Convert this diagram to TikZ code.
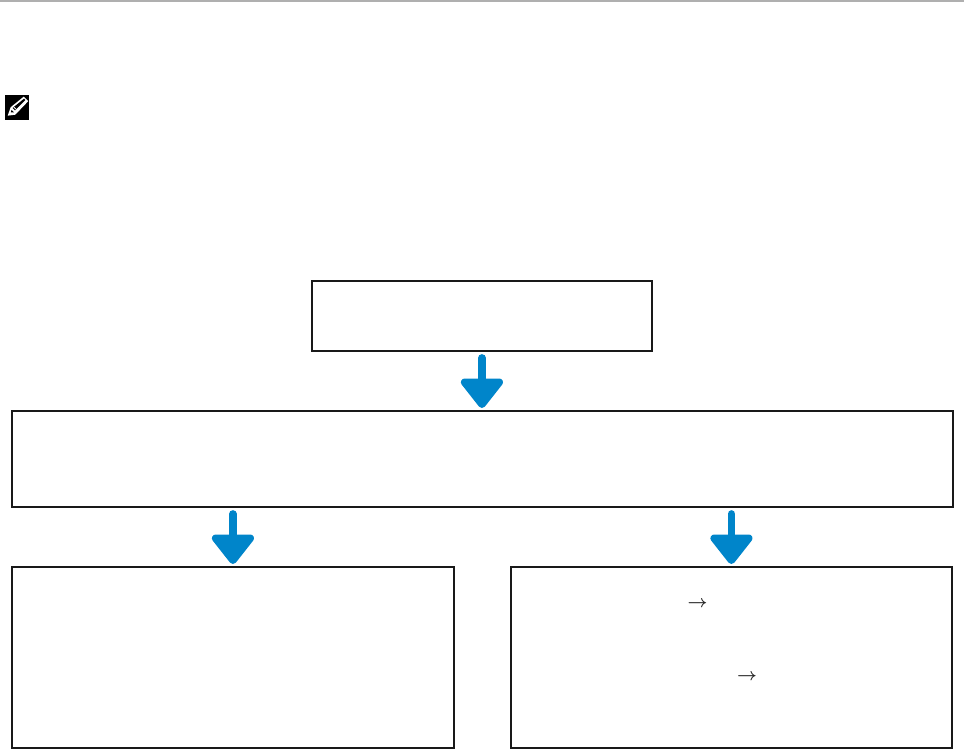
\documentclass[tikz,border=0pt]{standalone}
\usepackage{amsmath}
\usetikzlibrary{arrows.meta}
\definecolor{flowblue}{RGB}{0,133,202}
\definecolor{rulegray}{RGB}{175,175,175}
\tikzset{
  flowbox/.style={draw=black!90, line width=1.9pt, fill=white, inner sep=0pt, anchor=north west},
  flowarrow/.style={draw=flowblue, line width=7.5pt, line cap=round,
    -{Triangle[width=48pt,length=32pt,round]}, flowblue, shorten >=2pt, shorten <=6pt},
  smallarrow/.style={inner sep=0pt, text=black!85, font=\fontsize{18}{18}\selectfont}
}
\begin{document}
\begin{tikzpicture}[x=1pt,y=-1pt]
\useasboundingbox (0,0) rectangle (964,749);
\fill[white] (0,0) rectangle (964,749);
\coordinate (ruleL) at (0,1.5);
\coordinate (ruleR) at (964,1.5);
\draw[rulegray, line width=2pt] (ruleL) -- (ruleR);
% note icon
\node[fill=black, minimum width=24.5pt, minimum height=25.5pt, inner sep=0pt] (icon) at (17.2,107.7) {};
\begin{scope}[shift={(icon.center)}]
  \fill[white] (-9.5,8) -- (-6.5,-0.5) -- (6.5,-11) -- (11,-6.5) -- (0,5) -- (-2,7) -- cycle;
  \fill[black] (-4.6,0.3) -- (6.8,-9) -- (8.2,-7.6) -- (-2.2,2.8) -- cycle;
  \fill[black] (-6.4,4.8) -- (-5.6,2.2) -- (-3.2,4.6) -- cycle;
  \draw[white, line width=.8pt] (-3.4,-.6) -- (-1,1.6);
\end{scope}
% boxes
\node[flowbox, minimum width=340pt, minimum height=70pt] (top) at (311,280) {};
\node[flowbox, minimum width=941pt, minimum height=96pt] (mid) at (11,410) {};
\node[flowbox, minimum width=442pt, minimum height=181pt] (left) at (11,566) {};
\node[flowbox, minimum width=441pt, minimum height=181pt] (right) at (510,566) {};
% arrows
\draw[flowarrow] (top.south) -- (mid.north -| top.south);
\draw[flowarrow] (mid.south -| left.north) -- (left.north);
\draw[flowarrow] (mid.south -| right.north) -- (right.north);
% small arrows inside the right box
\node[smallarrow] (arrowa) at (697.5,604) {$\boldsymbol{\rightarrow}$};
\node[smallarrow] (arrowb) at (747,677) {$\boldsymbol{\rightarrow}$};
\end{tikzpicture}
\end{document}
